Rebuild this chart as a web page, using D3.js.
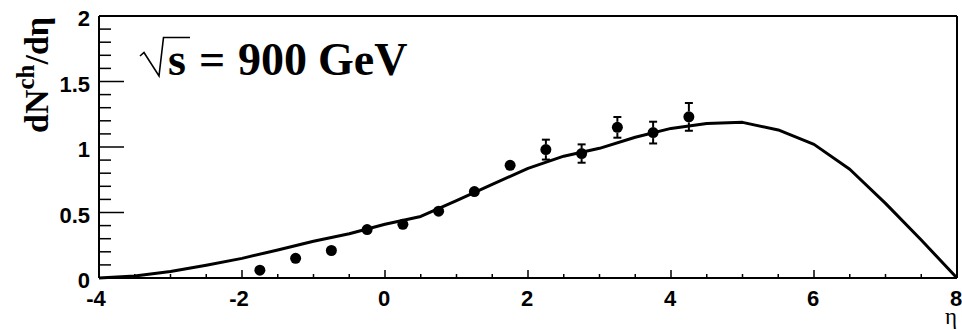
<!DOCTYPE html>
<html>
<head>
<meta charset="utf-8">
<script src="https://cdn.jsdelivr.net/npm/d3@7"></script>
<style>
  html, body { margin: 0; padding: 0; background: #fff; }
  svg { display: block; }
</style>
</head>
<body>
<svg id="chart" width="962" height="330"></svg>
<script>
// Measured pseudorapidity density of charged particles
const etaData   = [-1.75, -1.25, -0.75, -0.25, 0.25, 0.75, 1.25, 1.75, 2.25, 2.75, 3.25, 3.75, 4.25];
const dndetaData = [0.06, 0.15, 0.21, 0.37, 0.41, 0.51, 0.66, 0.86, 0.98, 0.95, 1.15, 1.11, 1.23];
const dndetaErr  = [0.03, 0.03, 0.03, 0.03, 0.03, 0.03, 0.03, 0.03, 0.076, 0.07, 0.079, 0.083, 0.106];

// Model calculation
const etaModel    = [-4, -3.5, -3, -2.5, -2, -1.5, -1, -0.5, 0, 0.5, 1, 1.5, 2, 2.5, 3, 3.5, 4, 4.5, 5, 5.5, 6, 6.5, 7, 7.5, 8];
const dndetaModel = [0, 0.015, 0.05, 0.097, 0.15, 0.214, 0.28, 0.338, 0.41, 0.47, 0.59, 0.715, 0.837, 0.93, 0.99, 1.074, 1.142, 1.18, 1.188, 1.13, 1.02, 0.83, 0.57, 0.29, 0];

const xTicks = [-4, -2, 0, 2, 4, 6, 8];
const yTicks = [0, 0.5, 1, 1.5, 2];

const svg = d3.select("#chart");
const plotL = 99, plotR = 957, plotT = 16, plotB = 278;

const x = d3.scaleLinear().domain([-4, 8]).range([plotL, plotR]);
const y = d3.scaleLinear().domain([0, 2]).range([plotB, plotT]);

const black = "#000";

// Frame top & right
svg.append("line").attr("x1", plotL).attr("x2", plotR).attr("y1", plotT).attr("y2", plotT)
  .attr("stroke", black).attr("stroke-width", 2);
svg.append("line").attr("x1", plotR).attr("x2", plotR).attr("y1", plotT).attr("y2", plotB)
  .attr("stroke", black).attr("stroke-width", 2);

// X axis: major ticks every 2, minor every 0.5, pointing inward
const xAxis = svg.append("g");
xAxis.append("line").attr("x1", plotL).attr("x2", plotR).attr("y1", plotB).attr("y2", plotB)
  .attr("stroke", black).attr("stroke-width", 2);
const xMinor = d3.range(-4, 8.001, 0.5);
xAxis.selectAll("line.tick").data(xMinor).join("line").attr("class", "tick")
  .attr("x1", d => x(d)).attr("x2", d => x(d))
  .attr("y1", plotB)
  .attr("y2", d => plotB - (Math.abs(d % 2) < 1e-9 ? 8 : 4))
  .attr("stroke", black).attr("stroke-width", 1.5);
xAxis.selectAll("text").data(xTicks).join("text")
  .attr("x", d => x(d) - (d < 0 ? 3 : 1))
  .attr("y", 306)
  .attr("text-anchor", "middle")
  .attr("font-family", "Liberation Sans, Arial, sans-serif")
  .attr("font-weight", "bold").attr("font-size", 22)
  .text(d => d);

// Y axis: major ticks every 0.5, minor every 0.1, pointing inward
const yAxis = svg.append("g");
yAxis.append("line").attr("x1", plotL).attr("x2", plotL).attr("y1", plotT).attr("y2", plotB)
  .attr("stroke", black).attr("stroke-width", 2);
const yMinor = d3.range(0, 2.0001, 0.1);
yAxis.selectAll("line.tick").data(yMinor).join("line").attr("class", "tick")
  .attr("x1", plotL)
  .attr("x2", (d, i) => plotL + (i % 5 === 0 ? 25 : 12))
  .attr("y1", d => y(d)).attr("y2", d => y(d))
  .attr("stroke", black).attr("stroke-width", 1.5);
yAxis.selectAll("text").data(yTicks).join("text")
  .attr("x", 90)
  .attr("y", d => y(d) + 10)
  .attr("text-anchor", "end")
  .attr("font-family", "Liberation Sans, Arial, sans-serif")
  .attr("font-weight", "bold").attr("font-size", 22)
  .text(d => d);

// Axis titles
const yTitle = svg.append("text")
  .attr("transform", "translate(48,133) rotate(-90)")
  .attr("font-family", "Liberation Serif, Times New Roman, serif")
  .attr("font-weight", "bold").attr("font-size", 34)
  .attr("text-anchor", "start");
yTitle.append("tspan").text("dN");
yTitle.append("tspan").attr("font-size", 25).attr("dy", -14).text("ch");
yTitle.append("tspan").attr("dy", 14).text("/d\u03b7");

svg.append("text")
  .attr("x", 957).attr("y", 324)
  .attr("text-anchor", "end")
  .attr("font-family", "Liberation Serif, Times New Roman, serif")
  .attr("font-size", 23)
  .text("\u03b7");

// Energy label with a radical sign
svg.append("path")
  .attr("d", "M140,56 L144,52.5 L159,76 L163.5,37.5 L190,37.5")
  .attr("fill", "none").attr("stroke", black).attr("stroke-width", 1.6)
  .attr("stroke-linejoin", "miter");
const lbl = svg.append("g")
  .attr("font-family", "Liberation Serif, Times New Roman, serif")
  .attr("font-weight", "bold").attr("font-size", 46);
lbl.append("text").attr("x", 168).attr("y", 75).text("s");
lbl.append("text").attr("x", 199).attr("y", 75).text("=");
lbl.append("text").attr("x", 238).attr("y", 75).text("900");
lbl.append("text").attr("x", 318).attr("y", 75).text("GeV");

// Model curve
const line = d3.line().x(d => x(d[0])).y(d => y(d[1])).curve(d3.curveLinear);
svg.append("path")
  .datum(etaModel.map((e, i) => [e, dndetaModel[i]]))
  .attr("d", line)
  .attr("fill", "none").attr("stroke", black).attr("stroke-width", 3)
  .attr("stroke-linejoin", "round");

// Data points with error bars (segments drawn outside the marker only)
const r = 5.5;
const pts = etaData.map((e, i) => ({ e, v: dndetaData[i], err: dndetaErr[i] }));
const eg = svg.append("g").attr("stroke", black).attr("stroke-width", 2);
pts.forEach(p => {
  const cx = x(p.e), cy = y(p.v);
  const up = y(p.v + p.err), dn = y(p.v - p.err);
  if (cy - up > r) {
    eg.append("line").attr("x1", cx).attr("x2", cx).attr("y1", up).attr("y2", cy - r);
    eg.append("line").attr("x1", cx - 4).attr("x2", cx + 4).attr("y1", up).attr("y2", up);
    eg.append("line").attr("x1", cx).attr("x2", cx).attr("y1", cy + r).attr("y2", dn);
    eg.append("line").attr("x1", cx - 4).attr("x2", cx + 4).attr("y1", dn).attr("y2", dn);
  }
});
svg.append("g").selectAll("circle").data(pts).join("circle")
  .attr("cx", d => x(d.e)).attr("cy", d => y(d.v)).attr("r", r)
  .attr("fill", black);
</script>
</body>
</html>
